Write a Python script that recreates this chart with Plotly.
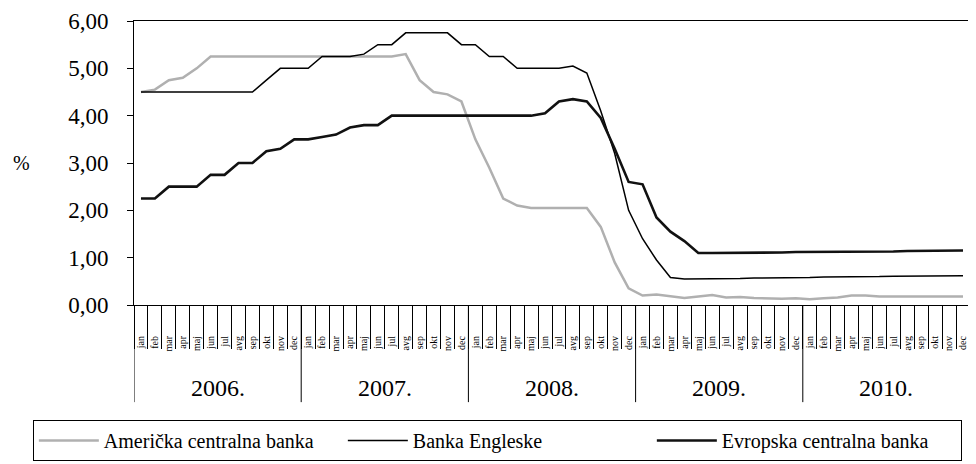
import plotly.graph_objects as go

years = ["2006.", "2007.", "2008.", "2009.", "2010."]
months = ["jan", "feb", "mar", "apr", "maj", "jun", "jul", "avg", "sep", "okt", "nov", "dec"]

fed = [4.50, 4.55, 4.75, 4.80, 5.00, 5.25, 5.25, 5.25, 5.25, 5.25, 5.25, 5.25,
       5.25, 5.25, 5.25, 5.25, 5.25, 5.25, 5.25, 5.30, 4.75, 4.50, 4.45, 4.30,
       3.50, 2.90, 2.25, 2.10, 2.05, 2.05, 2.05, 2.05, 2.05, 1.65, 0.90, 0.35,
       0.20, 0.22, 0.18, 0.15, 0.18, 0.21, 0.16, 0.17, 0.15, 0.14, 0.13, 0.14,
       0.12, 0.14, 0.16, 0.20, 0.20, 0.18, 0.18, 0.19, 0.19, 0.19, 0.19, 0.18]

boe = [4.50, 4.50, 4.50, 4.50, 4.50, 4.50, 4.50, 4.50, 4.50, 4.75, 5.00, 5.00,
       5.00, 5.25, 5.25, 5.25, 5.30, 5.50, 5.50, 5.75, 5.75, 5.75, 5.75, 5.50,
       5.50, 5.25, 5.25, 5.00, 5.00, 5.00, 5.00, 5.05, 4.90, 4.10, 3.20, 2.00,
       1.40, 0.95, 0.58, 0.55, 0.55, 0.55, 0.56, 0.56, 0.57, 0.57, 0.58, 0.58,
       0.58, 0.59, 0.59, 0.60, 0.60, 0.60, 0.61, 0.61, 0.61, 0.62, 0.62, 0.62]

ecb = [2.25, 2.25, 2.50, 2.50, 2.50, 2.75, 2.75, 3.00, 3.00, 3.25, 3.30, 3.50,
       3.50, 3.55, 3.60, 3.75, 3.80, 3.80, 4.00, 4.00, 4.00, 4.00, 4.00, 4.00,
       4.00, 4.00, 4.00, 4.00, 4.00, 4.05, 4.30, 4.35, 4.30, 3.95, 3.30, 2.60,
       2.55, 1.85, 1.55, 1.35, 1.10, 1.10, 1.10, 1.10, 1.10, 1.11, 1.11, 1.12,
       1.12, 1.12, 1.12, 1.13, 1.13, 1.13, 1.13, 1.14, 1.14, 1.14, 1.15, 1.15]

series_names = ["Američka centralna banka", "Banka Engleske", "Evropska centralna banka"]

n = len(fed)
xs = list(range(n))
month_text = [months[i % 12] for i in xs]
FONT = "Liberation Serif, Times New Roman, serif"

fig = go.Figure()
fig.add_trace(go.Scatter(x=xs, y=fed, mode="lines", name=series_names[0],
                         line=dict(color="#b0b0b0", width=2.5)))
fig.add_trace(go.Scatter(x=xs, y=boe, mode="lines", name=series_names[1],
                         line=dict(color="black", width=1.5)))
fig.add_trace(go.Scatter(x=xs, y=ecb, mode="lines", name=series_names[2],
                         line=dict(color="#111111", width=2.6)))

shapes = []
annotations = []
for k in range(len(years) + 1):
    shapes.append(dict(type="line", xref="x", yref="paper",
                       x0=12 * k - 0.5, x1=12 * k - 0.5, y0=0, y1=-0.342,
                       line=dict(color="black", width=1)))
for k, yr in enumerate(years):
    annotations.append(dict(text=yr, xref="x", yref="paper", x=12 * k + 5.5, y=-0.292,
                            xanchor="center", yanchor="middle", showarrow=False,
                            font=dict(size=24, family=FONT, color="black")))
annotations.append(dict(text="%", xref="paper", yref="paper", x=-0.134, y=0.5,
                        xanchor="center", yanchor="middle", showarrow=False,
                        font=dict(size=20, family=FONT, color="black")))

fig.update_layout(
    width=968, height=456,
    margin=dict(l=126, r=6, t=13, b=159, autoexpand=False),
    paper_bgcolor="white", plot_bgcolor="white",
    separators=", ",
    font=dict(family=FONT, color="black"),
    shapes=shapes, annotations=annotations,
    legend=dict(orientation="h", x=-0.121, y=-0.405, xanchor="left", yanchor="top",
                bordercolor="black", borderwidth=1, font=dict(size=20, family=FONT),
                entrywidth=234, itemwidth=60),
    xaxis=dict(range=[-0.5, n - 0.5], showgrid=False, zeroline=False,
               showline=True, linecolor="black", linewidth=1, mirror=True,
               tickmode="array", tickvals=xs, ticktext=month_text, ticks="",
               tickangle=-90, tickfont=dict(size=10, family=FONT),
               ticklabelstandoff=26,
               minor=dict(tickmode="array", tickvals=[i - 0.5 for i in range(n + 1)],
                          ticks="outside", ticklen=43, tickcolor="black", tickwidth=1)),
    yaxis=dict(range=[0, 6], tickvals=[0, 1, 2, 3, 4, 5, 6], tickformat=".2f",
               showgrid=False, zeroline=False, showline=True, linecolor="black",
               linewidth=1, mirror=True, ticks="outside", ticklen=6, tickcolor="black",
               tickfont=dict(size=23, family=FONT), ticklabelstandoff=14),
)

fig.write_html("out.html")
